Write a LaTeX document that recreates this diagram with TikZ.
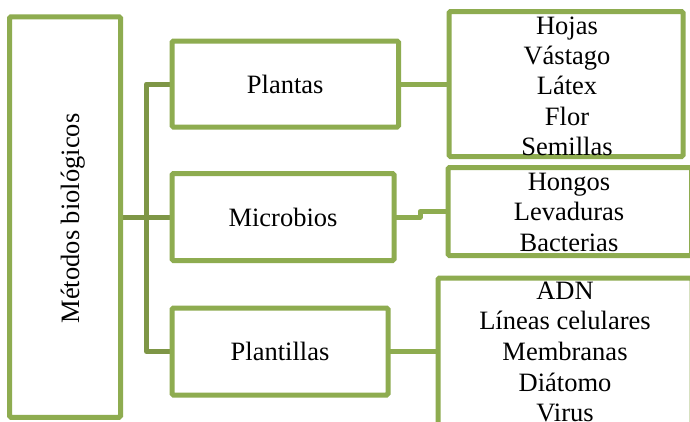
\documentclass[tikz,border=0pt]{standalone}
\usepackage{fontspec}
\setmainfont{Liberation Serif}
\definecolor{boxgreen}{RGB}{142,172,80}
\definecolor{trunkgreen}{RGB}{126,150,70}
\tikzset{
  box/.style={draw=boxgreen, line width=5pt, rectangle, rounded corners=1.5pt, inner sep=0pt, fill=none},
  trunk/.style={draw=trunkgreen, line width=5pt, line join=round},
  link/.style={draw=boxgreen, line width=5pt, line join=round},
  lbl/.style={inner sep=0pt, font=\fontsize{26.5}{30.5}\selectfont, text=black},
}
\begin{document}
\begin{tikzpicture}[x={(1pt,0)}, y={(0,-1pt)}]
\useasboundingbox (0,0) rectangle (690,421);
\clip (0,0) rectangle (690,421);
\fill[white] (0,0) rectangle (690,421);
% coordinates for connectors
\coordinate (jt) at (146.5,84);
\coordinate (jb) at (146.5,351.5);
\coordinate (st) at (420,0);
% boxes (shapes only, for anchors)
\path (65,217) node[box, draw=none, minimum width=106pt, minimum height=395.5pt] (met) {};
\path (285.25,84) node[box, draw=none, minimum width=221.5pt, minimum height=81pt] (pla) {};
\path (283,217) node[box, draw=none, minimum width=217pt, minimum height=82pt] (mic) {};
\path (280,351.5) node[box, draw=none, minimum width=211pt, minimum height=82pt] (pll) {};
\path (566,84) node[box, draw=none, minimum width=229pt, minimum height=140pt] (hoj) {};
\path (569.75,211.5) node[box, draw=none, minimum width=238.5pt, minimum height=83pt] (hon) {};
\path (565,351.5) node[box, draw=none, minimum width=249pt, minimum height=142pt] (adn) {};
% connectors
\draw[trunk] (met.east) -- (mic.west);
\draw[trunk] (pla.west) -- (jt) -- (jb) -- (pll.west);
\draw[link] (pla.east) -- (hoj.west);
\draw[link] (mic.east) -- (mic.east -| st) |- (hon.west);
\draw[link] (pll.east) -- (adn.west);
% visible box borders
\foreach \n in {met,pla,mic,pll,hoj,hon,adn}{
  \draw[draw=boxgreen, line width=5pt, rounded corners=1.5pt] (\n.south west) rectangle (\n.north east);
}
% texts
\node[lbl, rotate=90, anchor=base] (metT) at (79,218.5) {Métodos biológicos};
\node[lbl] (plaT) at (pla.center) {Plantas};
\node[lbl] (micT) at (mic.center) {Microbios};
\node[lbl] (pllT) at (pll.center) {Plantillas};
\node[lbl, anchor=base] (hojT) at (567,34) {\parbox[t]{240pt}{\centering\fontsize{26.5}{30.4}\selectfont Hojas\\Vástago\\Látex\\Flor\\Semillas}};
\node[lbl, anchor=base] (honT) at (569,190.2) {\parbox[t]{240pt}{\centering\fontsize{26.5}{30.4}\selectfont Hongos\\Levaduras\\Bacterias}};
\node[lbl, anchor=base] (adnT) at (565,299.2) {\parbox[t]{240pt}{\centering\fontsize{26.5}{30.6}\selectfont ADN\\Líneas celulares\\Membranas\\Diátomo\\Virus}};
\end{tikzpicture}
\end{document}
